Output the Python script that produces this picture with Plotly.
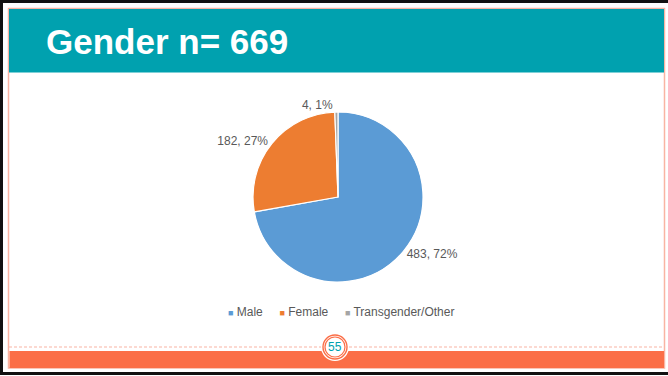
import plotly.graph_objects as go

# Survey responses by gender
labels = ["Male", "Female", "Transgender/Other"]
counts = [483, 182, 4]
colors = ["#5B9BD5", "#ED7D31", "#A5A5A5"]
total_n = 669
slide_number = "55"

W, H = 668, 376
TEAL = "#00A1AF"
ORANGE = "#FB6E47"
SALMON = "#F9B4A3"
TEXT_GREY = "#595959"


def px(x):
    return x / W


def py(y):
    return 1 - y / H


fig = go.Figure()

fig.add_trace(go.Pie(
    labels=labels,
    values=counts,
    marker=dict(colors=colors, line=dict(color="white", width=1.2)),
    sort=False,
    direction="clockwise",
    rotation=0,
    texttemplate="%{value}, %{percent:.0%}",
    textposition="outside",
    textfont=dict(family="Liberation Sans, Arial, sans-serif", size=12, color=TEXT_GREY),
    hoverinfo="label+value+percent",
    showlegend=False,
    domain=dict(x=[px(253), px(423)], y=[py(282), py(112)]),
))

shapes = []
# outer slide frame
shapes.append(dict(type="rect", xref="paper", yref="paper", layer="below",
                   x0=px(1.5), x1=px(700), y0=py(1.5), y1=py(373.5),
                   line=dict(color="#111111", width=3), fillcolor="rgba(0,0,0,0)"))
# inner salmon frame
shapes.append(dict(type="rect", xref="paper", yref="paper", layer="below",
                   x0=px(8.5), x1=px(664.5), y0=py(8.5), y1=py(368),
                   line=dict(color=SALMON, width=1.5), fillcolor="white"))
# title band
shapes.append(dict(type="rect", xref="paper", yref="paper", layer="below",
                   x0=px(9), x1=px(664), y0=py(9), y1=py(72.5),
                   line=dict(width=0), fillcolor=TEAL))
# footer dashed rule
shapes.append(dict(type="line", xref="paper", yref="paper", layer="below",
                   x0=px(9), x1=px(664), y0=py(347), y1=py(347),
                   line=dict(color=SALMON, width=1.2, dash="3px,2px")))
# footer band
shapes.append(dict(type="rect", xref="paper", yref="paper", layer="below",
                   x0=px(9.5), x1=px(664), y0=py(351), y1=py(368),
                   line=dict(width=0), fillcolor=ORANGE))
# slide-number badge
cx, cy = 335, 347
for r, fill, lw in [(14, "white", 0), (12, "rgba(0,0,0,0)", 1.4), (10, "white", 1.2)]:
    shapes.append(dict(type="circle", xref="paper", yref="paper", layer="below",
                       x0=px(cx - r), x1=px(cx + r), y0=py(cy - r), y1=py(cy + r),
                       line=dict(color=ORANGE if lw else "white", width=lw if lw else 0),
                       fillcolor=fill))

annotations = []
annotations.append(dict(
    text=f"<b>Gender n= {total_n}</b>", xref="paper", yref="paper",
    x=px(44), y=py(41), xanchor="left", yanchor="middle", showarrow=False,
    font=dict(family="Liberation Sans, Arial, sans-serif", size=35, color="white"),
))
annotations.append(dict(
    text=slide_number, xref="paper", yref="paper",
    x=px(cx), y=py(cy), xanchor="center", yanchor="middle", showarrow=False,
    font=dict(family="Liberation Sans, Arial, sans-serif", size=12, color=TEAL),
))
# legend row built from the series
legend_text = "     ".join(
    f"<span style='color:{c};font-size:9px'>■</span> {l}" for l, c in zip(labels, colors)
)
annotations.append(dict(
    text=legend_text, xref="paper", yref="paper",
    x=px(341), y=py(312), xanchor="center", yanchor="middle", showarrow=False,
    font=dict(family="Liberation Sans, Arial, sans-serif", size=12, color=TEXT_GREY),
))

fig.update_layout(
    width=W, height=H,
    margin=dict(l=0, r=0, t=0, b=0),
    paper_bgcolor="white",
    plot_bgcolor="white",
    shapes=shapes,
    annotations=annotations,
    showlegend=False,
)

fig.write_html("out.html", config={"displayModeBar": False})
